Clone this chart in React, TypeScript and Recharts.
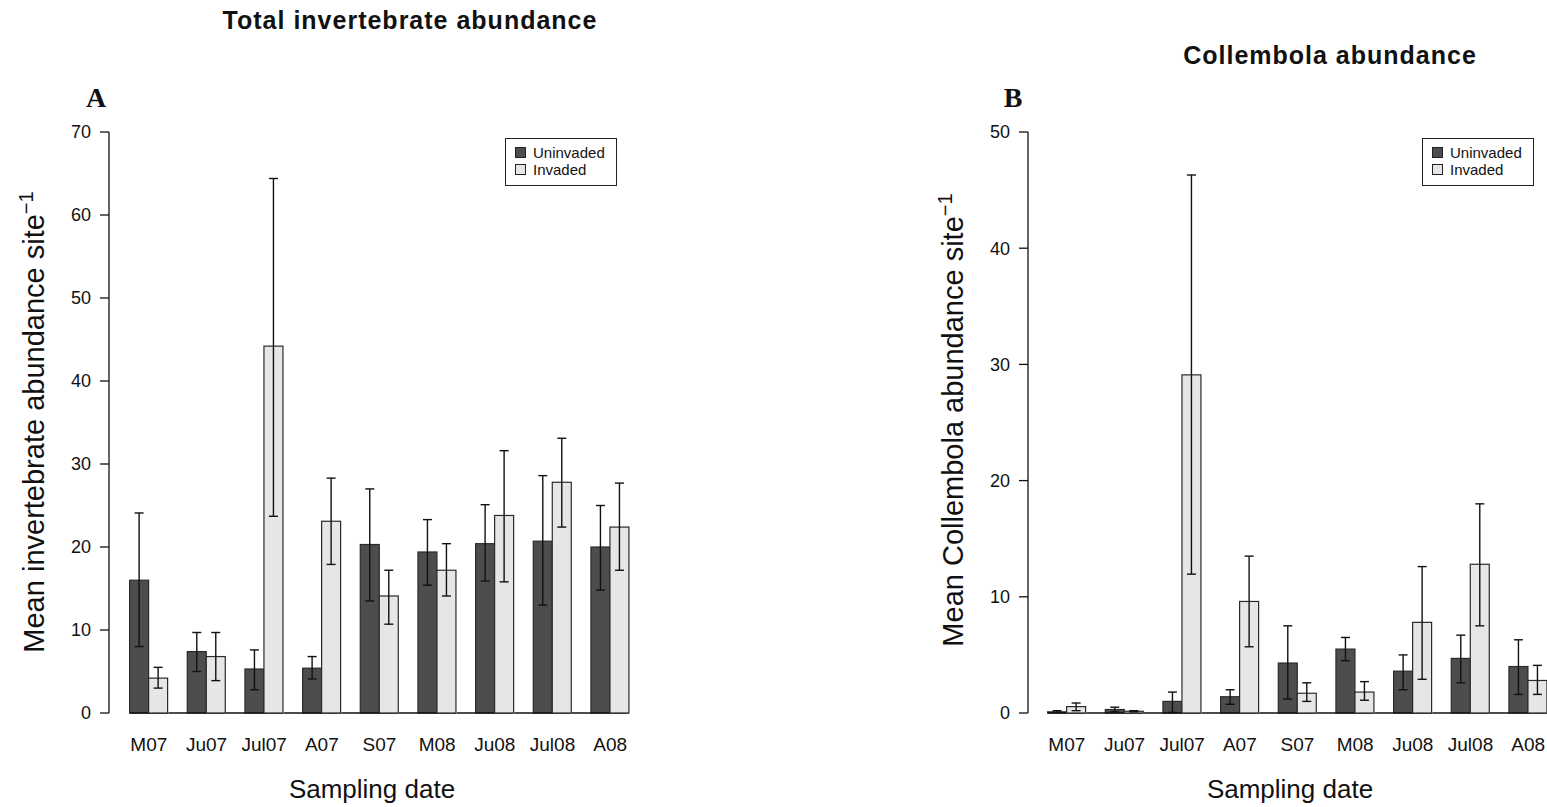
import React from "react";
import { BarChart, Bar, XAxis, YAxis, ErrorBar } from "recharts";

// sampling dates (shared by both panels)
const categories = ["M07", "Ju07", "Jul07", "A07", "S07", "M08", "Ju08", "Jul08", "A08"];

// Panel A - total invertebrate abundance
const invUninvaded = [16.0, 7.4, 5.3, 5.4, 20.3, 19.4, 20.4, 20.7, 20.0];
const invUninvadedLow = [8.0, 5.0, 2.8, 4.1, 13.5, 15.4, 15.9, 13.0, 14.8];
const invUninvadedHigh = [24.1, 9.7, 7.6, 6.8, 27.0, 23.3, 25.1, 28.6, 25.0];
const invInvaded = [4.2, 6.8, 44.2, 23.1, 14.1, 17.2, 23.8, 27.8, 22.4];
const invInvadedLow = [3.0, 3.9, 23.7, 17.9, 10.7, 14.1, 15.8, 22.4, 17.2];
const invInvadedHigh = [5.5, 9.7, 64.4, 28.3, 17.2, 20.4, 31.6, 33.1, 27.7];
const invTicks = [0, 10, 20, 30, 40, 50, 60, 70];

// Panel B - Collembola abundance
const colUninvaded = [0.1, 0.3, 1.0, 1.4, 4.3, 5.5, 3.6, 4.7, 4.0];
const colUninvadedLow = [0.05, 0.1, 0.05, 0.75, 1.2, 4.5, 2.0, 2.6, 1.6];
const colUninvadedHigh = [0.2, 0.5, 1.8, 2.0, 7.5, 6.5, 5.0, 6.7, 6.3];
const colInvaded = [0.55, 0.15, 29.1, 9.6, 1.7, 1.8, 7.8, 12.8, 2.8];
const colInvadedLow = [0.2, 0.1, 11.95, 5.7, 1.0, 1.1, 2.9, 7.5, 1.6];
const colInvadedHigh = [0.86, 0.2, 46.3, 13.5, 2.6, 2.7, 12.6, 18.0, 4.1];
const colTicks = [0, 10, 20, 30, 40, 50];

const SANS = '"Liberation Sans", Arial, sans-serif';
const SERIF = '"Liberation Serif", "Times New Roman", serif';
const DARK = "#4d4d4d";
const LIGHT = "#e6e6e6";
const INK = "#111";

const buildRows = (
  u: number[], uLo: number[], uHi: number[],
  v: number[], vLo: number[], vHi: number[]
) =>
  categories.map((date, i) => ({
    date,
    uninvaded: u[i],
    uninvadedErr: [u[i] - uLo[i], uHi[i] - u[i]],
    invaded: v[i],
    invadedErr: [v[i] - vLo[i], vHi[i] - v[i]],
  }));

const invRows = buildRows(invUninvaded, invUninvadedLow, invUninvadedHigh, invInvaded, invInvadedLow, invInvadedHigh);
const colRows = buildRows(colUninvaded, colUninvadedLow, colUninvadedHigh, colInvaded, colInvadedLow, colInvadedHigh);

// bar with outline; dark bars also draw the baseline under their group
const barShape = (fill: string, drawBase: boolean) => (props: any) => {
  const { x, y, width, height, index } = props;
  const base = y + height;
  return (
    <g>
      <rect x={x} y={y} width={width} height={Math.max(height, 0)} fill={fill} stroke="#2b2b2b" strokeWidth={1.2} />
      {drawBase && (
        <line x1={index === 0 ? x : x - width} x2={x + 2 * width} y1={base} y2={base} stroke={INK} strokeWidth={1.4} />
      )}
    </g>
  );
};

const DateTick = ({ x, y, payload }: any) => (
  <text x={x} y={y + 38} textAnchor="middle" fontSize={19} fontFamily={SANS} fill={INK}>
    {payload.value}
  </text>
);

const centered = (left: number, top: number): React.CSSProperties => ({
  position: "absolute",
  left,
  top,
  transform: "translate(-50%, -50%)",
  whiteSpace: "nowrap",
  color: INK,
});

interface PanelProps {
  left: number;
  rows: any[];
  ticks: number[];
  padLeft: number;
  padRight: number;
}

const Panel: React.FC<PanelProps> = ({ left, rows, ticks, padLeft, padRight }) => (
  <div style={{ position: "absolute", left, top: 0 }}>
    <BarChart
      width={660}
      height={807}
      data={rows}
      margin={{ top: 132, right: 10, bottom: 64, left: 0 }}
      barCategoryGap="16.667%"
      barGap={0}
    >
      <XAxis
        dataKey="date"
        height={30}
        axisLine={false}
        tickLine={false}
        tickSize={0}
        tickMargin={0}
        interval={0}
        padding={{ left: padLeft, right: padRight }}
        tick={<DateTick />}
      />
      <YAxis
        width={109}
        domain={[0, ticks[ticks.length - 1]]}
        ticks={ticks}
        interval={0}
        tickSize={9}
        tickMargin={9}
        axisLine={{ stroke: INK, strokeWidth: 1.3 }}
        tickLine={{ stroke: INK, strokeWidth: 1.3 }}
        tick={{ fontSize: 18, fill: INK, fontFamily: SANS }}
      />
      <Bar dataKey="uninvaded" name="Uninvaded" fill={DARK} shape={barShape(DARK, true)} isAnimationActive={false}>
        <ErrorBar dataKey="uninvadedErr" width={4.5} stroke={INK} strokeWidth={1.4} isAnimationActive={false} />
      </Bar>
      <Bar dataKey="invaded" name="Invaded" fill={LIGHT} shape={barShape(LIGHT, false)} isAnimationActive={false}>
        <ErrorBar dataKey="invadedErr" width={4.5} stroke={INK} strokeWidth={1.4} isAnimationActive={false} />
      </Bar>
    </BarChart>
  </div>
);

const LegendBox: React.FC<{ left: number; top: number }> = ({ left, top }) => (
  <div
    style={{
      position: "absolute",
      left,
      top,
      width: 112,
      height: 48,
      boxSizing: "border-box",
      border: "1px solid #222",
      background: "#fff",
      fontFamily: SANS,
      fontSize: 15,
      color: INK,
      paddingTop: 5,
    }}
  >
    {[
      { label: "Uninvaded", fill: DARK },
      { label: "Invaded", fill: LIGHT },
    ].map((e) => (
      <div key={e.label} style={{ display: "flex", alignItems: "center", height: 17, paddingLeft: 9 }}>
        <span style={{ width: 9, height: 9, background: e.fill, border: "1px solid #222", marginRight: 7 }} />
        <span>{e.label}</span>
      </div>
    ))}
  </div>
);

const YLabel: React.FC<{ x: number; y: number; text: string }> = ({ x, y, text }) => (
  <div style={{ ...centered(x, y), transform: "translate(-50%, -50%) rotate(-90deg)", fontFamily: SANS, fontSize: 29 }}>
    {text}
    <sup style={{ fontSize: 20, verticalAlign: "0.55em" }}>−1</sup>
  </div>
);

export default function App() {
  return (
    <div
      style={{
        position: "absolute",
        left: 0,
        top: 0,
        width: 1547,
        height: 807,
        overflow: "hidden",
        background: "#fff",
      }}
    >
      <Panel left={0} rows={invRows} ticks={invTicks} padLeft={11} padRight={11} />
      <Panel left={919} rows={colRows} ticks={colTicks} padLeft={10} padRight={12} />

      <LegendBox left={505} top={138} />
      <LegendBox left={1422} top={138} />

      <div style={{ ...centered(410, 20), fontFamily: SANS, fontWeight: "bold", fontSize: 25, letterSpacing: 1 }}>
        Total invertebrate abundance
      </div>
      <div style={{ ...centered(1330, 55), fontFamily: SANS, fontWeight: "bold", fontSize: 25, letterSpacing: 1 }}>
        Collembola abundance
      </div>

      <div style={{ ...centered(96, 98), fontFamily: SERIF, fontWeight: "bold", fontSize: 28 }}>A</div>
      <div style={{ ...centered(1013, 98), fontFamily: SERIF, fontWeight: "bold", fontSize: 28 }}>B</div>

      <YLabel x={33} y={422} text="Mean invertebrate abundance site" />
      <YLabel x={952} y={420} text="Mean Collembola abundance site" />

      <div style={{ ...centered(372, 789), fontFamily: SANS, fontSize: 26 }}>Sampling date</div>
      <div style={{ ...centered(1290, 789), fontFamily: SANS, fontSize: 26 }}>Sampling date</div>
    </div>
  );
}
